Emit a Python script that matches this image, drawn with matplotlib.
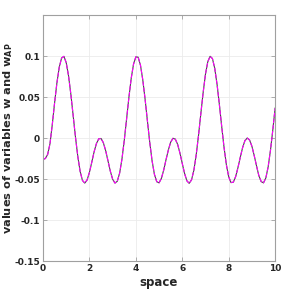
import numpy as np
import matplotlib.pyplot as plt

# values, step 0.1 in space
space = np.round(np.arange(0, 10.01, 0.1), 1)
w = np.array([
    -0.026, -0.025, -0.020, -0.007, 0.0165, 0.0431, 0.0675, 0.0865, 0.0976, 0.0996,
    0.0920, 0.0759, 0.0533, 0.0272, 0.0008, -0.0226, -0.0407, -0.0517, -0.0549, -0.0511,
    -0.0419, -0.0296, -0.0170, -0.0068, -0.0010, -0.0005, -0.0057, -0.0154, -0.0278, -0.0404,
    -0.0502, -0.0549, -0.0527, -0.0429, -0.0259, -0.0031, 0.0230, 0.0494, 0.0728, 0.0901,
    0.0990, 0.0986, 0.0887, 0.0707, 0.0470, 0.0205, -0.0055, -0.0278, -0.0442, -0.0532,
    -0.0546, -0.0492, -0.0390, -0.0264, -0.0146, -0.0050, -0.0003, -0.0013, -0.0077, -0.0183,
    -0.0310, -0.0433, -0.0522, -0.0552, -0.0509, -0.0392, -0.0206, 0.0032, 0.0298, 0.0556,
    0.0780, 0.0931, 0.0997, 0.0969, 0.0849, 0.0652, 0.0405, 0.0139, -0.0114, -0.0325,
    -0.0472, -0.0543, -0.0538, -0.0470, -0.0360, -0.0233, -0.0116, -0.0031, 0.0000, -0.0024,
    -0.0100, -0.0214, -0.0340, -0.0459, -0.0531, -0.0546, -0.0487, -0.0352, -0.0149, 0.0096,
    0.0365])
w_ap = w.copy()

xticks = [0, 2, 4, 6, 8, 10]
yticks = [-0.15, -0.1, -0.05, 0, 0.05, 0.1]
ytick_labels = ['-0.15', '-0.1', '-0.05', '0', '0.05', '0.1']

fig = plt.figure(figsize=(3.05, 2.95), dpi=100)
ax = fig.add_axes([0.141, 0.115, 0.761, 0.834])

ax.plot(space, w, color='#3a5a3a', lw=0.8)
ax.plot(space, w_ap, color='#ff00ff', lw=0.8, ls=(0, (4, 1.5)))

ax.set_xlim(0, 10)
ax.set_ylim(-0.15, 0.15)
ax.set_xticks(xticks)
ax.set_xticklabels([str(t) for t in xticks])
ax.set_yticks(yticks)
ax.set_yticklabels(ytick_labels)

ax.grid(True, color='#ebebeb', lw=0.6)
ax.set_axisbelow(True)
for s in ax.spines.values():
    s.set_color('#a0a0a0')
    s.set_linewidth(0.8)
ax.tick_params(direction='in', length=3, width=0.6, color='#a0a0a0',
               labelsize=6.5, labelcolor='#262626', top=True, right=True, pad=2)
for lab in ax.get_xticklabels() + ax.get_yticklabels():
    lab.set_fontweight('bold')

ax.set_xlabel('space', fontsize=8.5, fontweight='bold', color='#262626', labelpad=2)
ax.set_ylabel(r'values of variables w and w$_{\mathbf{AP}}$', fontsize=8.2,
              fontweight='bold', color='#262626', va='center')
ax.yaxis.set_label_coords(-0.152, 0.5)

fig.savefig('out.png', dpi=100)
